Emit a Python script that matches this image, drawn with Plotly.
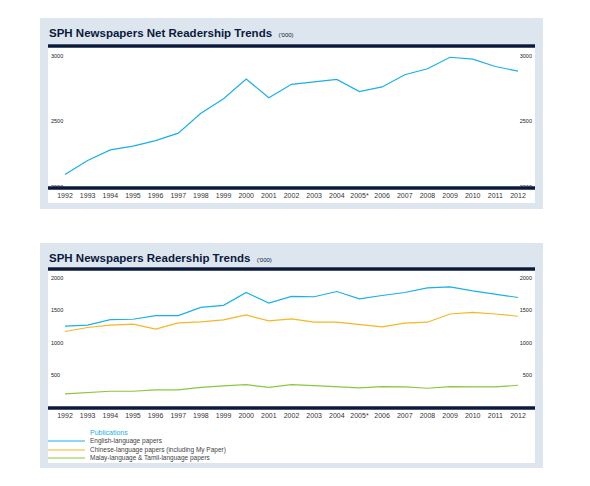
import plotly.graph_objects as go

years = ["1992","1993","1994","1995","1996","1997","1998","1999","2000","2001","2002",
         "2003","2004","2005*","2006","2007","2008","2009","2010","2011","2012"]
net = [2093,2201,2282,2310,2353,2410,2562,2673,2824,2680,2783,2804,2821,2728,2763,2856,2902,2990,2975,2919,2884]
english = [1255,1270,1357,1362,1418,1418,1545,1576,1775,1612,1714,1709,1790,1678,1729,1775,1846,1862,1801,1744,1698]
chinese = [1173,1234,1270,1285,1209,1306,1321,1351,1428,1336,1367,1316,1316,1280,1244,1301,1316,1443,1469,1443,1408]
malay = [209,224,250,250,270,270,311,332,352,311,352,337,316,301,321,316,296,321,316,316,342]
top_ticks = [2000, 2500, 3000]
bot_ticks = [0, 500, 1000, 1500, 2000]

W, H = 574, 470
OFF = 8
px = lambda x: (x - OFF) / W
py = lambda y: 1 - (y - OFF) / H
NAVY = "#0b1a3c"
BLUE = "#1ab0e8"
ORANGE = "#f6b626"
GREEN = "#8cc63f"
idx = list(range(len(years)))

fig = go.Figure()
fig.add_trace(go.Scatter(x=idx, y=net, mode="lines", line=dict(color=BLUE, width=1.2),
                         xaxis="x", yaxis="y", showlegend=False))
fig.add_trace(go.Scatter(x=idx, y=english, mode="lines", line=dict(color=BLUE, width=1.2),
                         xaxis="x2", yaxis="y2", showlegend=False))
fig.add_trace(go.Scatter(x=idx, y=chinese, mode="lines", line=dict(color=ORANGE, width=1.2),
                         xaxis="x2", yaxis="y2", showlegend=False))
fig.add_trace(go.Scatter(x=idx, y=malay, mode="lines", line=dict(color=GREEN, width=1.2),
                         xaxis="x2", yaxis="y2", showlegend=False))

xd = [px(48), px(535)]
xr = [-0.75, 20.75]
xcommon = dict(domain=xd, range=xr, tickmode="array", tickvals=idx, ticktext=years,
               showgrid=False, zeroline=False, showline=False, ticks="",
               tickfont=dict(family="Liberation Sans", size=7, color="#333"), fixedrange=True)
ycommon = dict(showgrid=False, zeroline=False, showline=False, ticks="",
               ticklabelposition="inside", tickfont=dict(family="Liberation Sans", size=5.5, color="#222"))
top_dom = [py(190), py(46)]
bot_dom = [py(410), py(269)]
top_rng = [1975, 3076]
bot_rng = [-40, 2138]
fig.update_layout(
    width=W, height=H, margin=dict(l=0, r=0, t=0, b=0),
    paper_bgcolor="white", plot_bgcolor="white",
    xaxis=dict(anchor="y", **xcommon),
    yaxis=dict(domain=top_dom, range=top_rng, tickvals=top_ticks, anchor="x", **ycommon),
    yaxis3=dict(range=top_rng, tickvals=top_ticks, overlaying="y", side="right", anchor="x", **ycommon),
    xaxis2=dict(anchor="y2", **xcommon),
    yaxis2=dict(domain=bot_dom, range=bot_rng, tickvals=bot_ticks, anchor="x2", **ycommon),
    yaxis4=dict(range=bot_rng, tickvals=bot_ticks, overlaying="y2", side="right", anchor="x2", **ycommon),
)
fig.add_trace(go.Scatter(x=[0], y=[2000], mode="markers", marker=dict(opacity=0), xaxis="x", yaxis="y3",
                         showlegend=False, hoverinfo="skip"))
fig.add_trace(go.Scatter(x=[0], y=[0], mode="markers", marker=dict(opacity=0), xaxis="x2", yaxis="y4",
                         showlegend=False, hoverinfo="skip"))

shapes = []
for (y0, y1) in [(18, 209), (243, 468)]:
    shapes.append(dict(type="rect", xref="paper", yref="paper", x0=px(40), x1=px(543), y0=py(y1), y1=py(y0),
                       fillcolor="#dde6ee", line=dict(width=0), layer="below"))
for (y0, y1) in [(44, 203), (267, 463)]:
    shapes.append(dict(type="rect", xref="paper", yref="paper", x0=px(48), x1=px(535), y0=py(y1), y1=py(y0),
                       fillcolor="white", line=dict(width=0), layer="below"))
for y in [46, 188, 269, 408]:
    shapes.append(dict(type="line", xref="paper", yref="paper", x0=px(48), x1=px(535), y0=py(y), y1=py(y),
                       line=dict(color=NAVY, width=3.5)))
legend_items = [("English-language papers", BLUE, 441), ("Chinese-language papers (including My Paper)", ORANGE, 450),
                ("Malay-language & Tamil-language papers", GREEN, 458)]
for _, c, y in legend_items:
    shapes.append(dict(type="line", xref="paper", yref="paper", x0=px(48), x1=px(85), y0=py(y), y1=py(y),
                       line=dict(color=c, width=1.2)))
fig.update_layout(shapes=shapes)

ann = []
for title, y in [("SPH Newspapers Net Readership Trends", 33), ("SPH Newspapers Readership Trends", 258)]:
    ann.append(dict(x=px(47), y=py(y), xref="paper", yref="paper", xanchor="left", yanchor="middle",
                    showarrow=False, text="<b>" + title + "</b>  <span style='font-size:6px'>('000)</span>",
                    font=dict(family="Liberation Sans", size=11.5, color=NAVY)))
ann.append(dict(x=px(88), y=py(432), xref="paper", yref="paper", xanchor="left", yanchor="middle",
                showarrow=False, text="Publications", font=dict(family="Liberation Sans", size=7, color="#1ab0e8")))
for t, _, y in legend_items:
    ann.append(dict(x=px(88), y=py(y), xref="paper", yref="paper", xanchor="left", yanchor="middle",
                    showarrow=False, text=t, font=dict(family="Liberation Sans", size=6.5, color="#444")))
fig.update_layout(annotations=ann)

fig.write_html("out.html")
